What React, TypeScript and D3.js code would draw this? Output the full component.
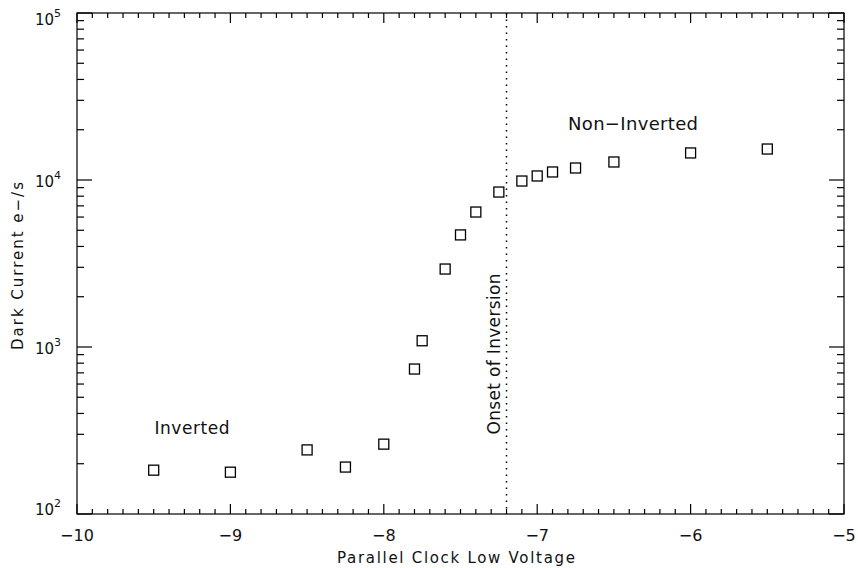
import React from "react";
import * as d3 from "d3";

const voltages = [-9.5, -9.0, -8.5, -8.25, -8.0, -7.8, -7.75, -7.6, -7.5, -7.4, -7.25, -7.1, -7.0, -6.9, -6.75, -6.5, -6.0, -5.5];
const darkCurrent = [183, 178, 242, 191, 262, 738, 1090, 2930, 4690, 6430, 8470, 9860, 10570, 11170, 11800, 12820, 14520, 15330];
const xTicks = [-10, -9, -8, -7, -6, -5];
const yDecades = [2, 3, 4, 5];
const onsetVoltage = -7.2;

const W = 858, H = 568;
const L = 77, R = 844, T = 13, B = 514;
const FONT = "'DejaVu Sans', sans-serif";

export default function App() {
  const x = d3.scaleLinear().domain([-10, -5]).range([L, R]);
  const y = d3.scaleLog().domain([100, 100000]).range([B, T]);
  const xMinor = d3.range(-100, -49).map((v) => v / 10).filter((v) => Math.abs(v - Math.round(v)) > 1e-6);
  const yMinor: number[] = [];
  for (let d = 2; d < 5; d++) for (let m = 2; m <= 9; m++) yMinor.push(m * Math.pow(10, d));
  const fmt = (v: number) => (v < 0 ? "\u2212" + Math.abs(v) : String(v));
  const s = 10;
  return (
    <svg width={W} height={H} style={{ position: "absolute", left: 0, top: 0, background: "#fff" }}>
      <rect x={0} y={0} width={W} height={H} fill="#fff" />
      <g stroke="#000" strokeWidth={1.2} fill="none">
        <rect x={L} y={T} width={R - L} height={B - T} />
        {xTicks.map((v) => (
          <g key={"xt" + v}>
            <line x1={x(v)} x2={x(v)} y1={B} y2={B - 10} />
            <line x1={x(v)} x2={x(v)} y1={T} y2={T + 10} />
          </g>
        ))}
        {xMinor.map((v) => (
          <g key={"xm" + v}>
            <line x1={x(v)} x2={x(v)} y1={B} y2={B - 5} />
            <line x1={x(v)} x2={x(v)} y1={T} y2={T + 5} />
          </g>
        ))}
        {yDecades.map((d) => (
          <g key={"yt" + d}>
            <line x1={L} x2={L + 15} y1={y(Math.pow(10, d))} y2={y(Math.pow(10, d))} />
            <line x1={R} x2={R - 15} y1={y(Math.pow(10, d))} y2={y(Math.pow(10, d))} />
          </g>
        ))}
        {yMinor.map((v) => (
          <g key={"ym" + v}>
            <line x1={L} x2={L + 7} y1={y(v)} y2={y(v)} />
            <line x1={R} x2={R - 7} y1={y(v)} y2={y(v)} />
          </g>
        ))}
      </g>
      <line x1={x(onsetVoltage)} x2={x(onsetVoltage)} y1={T} y2={B} stroke="#000" strokeWidth={1.5} strokeDasharray="1.5,5" />
      <g fill="none" stroke="#000" strokeWidth={1.3}>
        {voltages.map((v, i) => (
          <rect key={"p" + i} x={x(v) - s / 2} y={y(darkCurrent[i]) - s / 2} width={s} height={s} />
        ))}
      </g>
      <g fontFamily={FONT} fill="#111" fontSize={16}>
        {xTicks.map((v) => (
          <text key={"xl" + v} x={x(v)} y={541} textAnchor="middle">{fmt(v)}</text>
        ))}
        {yDecades.map((d) => {
          const base = Math.min(Math.max(y(Math.pow(10, d)) + 7, T + 12), B + 1);
          return (
            <text key={"yl" + d} x={61} y={base} textAnchor="end" fontSize={15}>
              10<tspan fontSize={11} dy={-8}>{d}</tspan>
            </text>
          );
        })}
        <text x={456} y={563} textAnchor="middle" fontSize={15} textLength={238} lengthAdjust="spacing">Parallel Clock Low Voltage</text>
        <text transform={`translate(23,266) rotate(-90)`} textAnchor="middle" fontSize={15} textLength={168} lengthAdjust="spacing">Dark Current e{"\u2212"}/s</text>
        <text x={192} y={434} textAnchor="middle" fontSize={17} textLength={75} lengthAdjust="spacing">Inverted</text>
        <text x={633} y={130} textAnchor="middle" fontSize={18} textLength={130} lengthAdjust="spacing">Non{"\u2212"}Inverted</text>
        <text transform={`translate(500,354) rotate(-90)`} textAnchor="middle" fontSize={17} textLength={161} lengthAdjust="spacing">Onset of Inversion</text>
      </g>
    </svg>
  );
}
